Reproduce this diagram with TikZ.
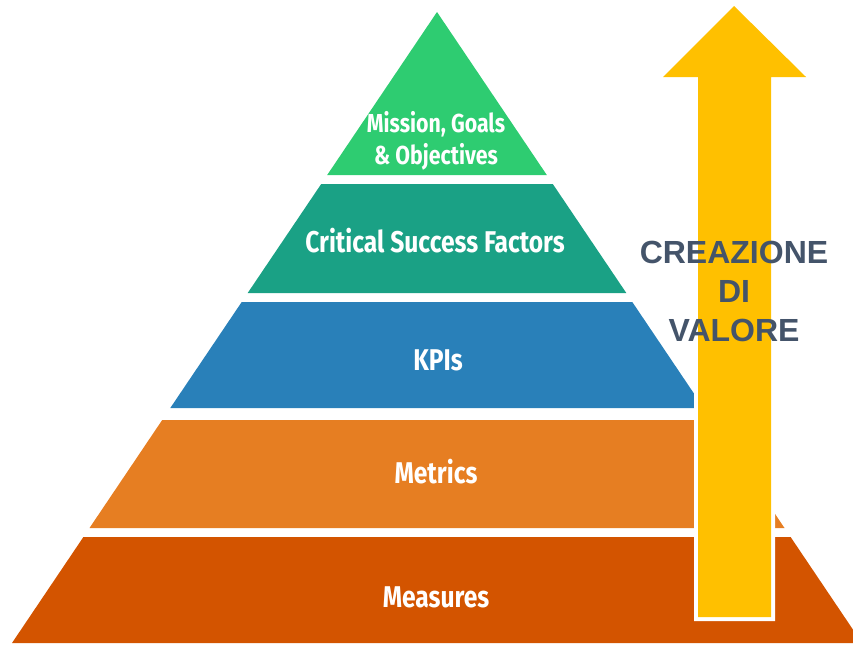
\documentclass[tikz,border=0pt]{standalone}
\usepackage{fontspec}
\setmainfont{Liberation Sans}
\newfontfamily\pyrfont[FakeStretch=0.82]{Fira Sans}
\definecolor{tierA}{HTML}{2ECC71}
\definecolor{tierB}{HTML}{1AA185}
\definecolor{tierC}{HTML}{2980B9}
\definecolor{tierD}{HTML}{E67E22}
\definecolor{tierE}{HTML}{D35400}
\definecolor{arrowY}{HTML}{FFC000}
\definecolor{valtext}{HTML}{44546A}
\tikzset{
  tierlabel/.style={text=white, align=center, inner sep=0pt, font=\pyrfont\fontsize{30}{36}\selectfont\bfseries},
  toplabel/.style={text=white, align=center, inner sep=0pt, font=\pyrfont\fontsize{26}{32}\selectfont\bfseries},
  vallabel/.style={text=valtext, align=center, inner sep=0pt, font=\fontsize{32}{39}\selectfont\bfseries},
}
\begin{document}
\begin{tikzpicture}[x=1pt,y=-1pt]
\useasboundingbox (0,0) rectangle (853,645);
% tiers
\fill[tierA] (437,12) -- (546.8,175) -- (327.2,175) -- cycle;
\fill[tierB] (321.2,184) -- (552.8,184) -- (626.3,293) -- (247.7,293) -- cycle;
\fill[tierC] (241.7,302) -- (632.3,302) -- (703.7,408) -- (170.3,408) -- cycle;
\fill[tierD] (162.2,420) -- (711.8,420) -- (784.5,528) -- (89.5,528) -- cycle;
\fill[tierE] (83.4,537) -- (790.6,537) -- (862,643) -- (12,643) -- cycle;
% labels
\node[toplabel] (t1) at (436,141) {Mission, Goals\\\& Objectives};
\node[tierlabel] (t2) at (435,241) {Critical Success Factors};
\node[tierlabel] (t3) at (438,360) {KPIs};
\node[tierlabel] (t4) at (436,472) {Metrics};
\node[tierlabel] (t5) at (436,597) {Measures};
% arrow
\draw[white, line width=8pt, line join=miter] (698,617) -- (698,77) -- (663,77) -- (734,6) -- (806,77) -- (771,77) -- (771,617) -- cycle;
\fill[arrowY] (698,617) -- (698,77) -- (663,77) -- (734,6) -- (806,77) -- (771,77) -- (771,617) -- cycle;
\node[vallabel] (val) at (734,291) {CREAZIONE\\DI\\VALORE};
\end{tikzpicture}
\end{document}
